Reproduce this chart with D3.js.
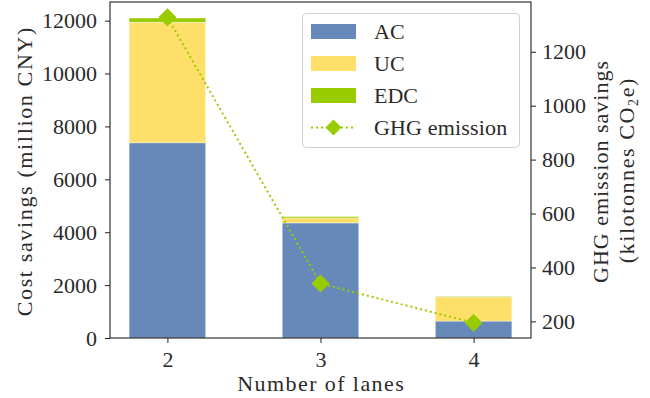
<!DOCTYPE html>
<html><head><meta charset="utf-8">
<script src="https://cdn.jsdelivr.net/npm/d3@7"></script>
<style>body{margin:0;background:#fff}svg{display:block}</style>
</head><body>
<script>
const lanes = [2, 3, 4];
const acValues = [7380, 4350, 640];
const ucValues = [4560, 190, 910];
const edcValues = [160, 50, 25];
const ghgValues = [1328, 340, 195];
const leftTicks = [0, 2000, 4000, 6000, 8000, 10000, 12000];
const rightTicks = [200, 400, 600, 800, 1000, 1200];
const seriesNames = ["AC", "UC", "EDC"];
const colors = {AC: "#6689ba", UC: "#fddf69", EDC: "#99cc00", GHG: "#99cc00"};

const W = 650, H = 398;
const L = 110, R = 531, T = 2, B = 338;
const FONT = "'Liberation Serif', 'DejaVu Serif', serif";
const FS = 22, CW = 11.1, TXT = "#2a2a2a";

const svg = d3.select("body").append("svg").attr("width", W).attr("height", H)
  .style("font-family", FONT);

const x = d3.scaleLinear().domain([1.625, 4.375]).range([L, R]);
const yL = d3.scaleLinear().domain([0, 12705]).range([B, T]);
const yR = d3.scaleLinear().domain([138.3, 1384.6]).range([B, T]);
const barW = x(2.25) - x(1.75);

// spread text to a monospace-like cell width (as the reference font), never squeeze
function fit(sel) {
  sel.each(function() {
    const s = this.textContent;
    const target = s.length * CW;
    if (this.getComputedTextLength() < target) {
      d3.select(this).attr("textLength", target).attr("lengthAdjust", "spacing");
    }
  });
}

// stacked bars
const rows = lanes.map((l, i) => ({lane: l, AC: acValues[i], UC: ucValues[i], EDC: edcValues[i]}));
const stack = d3.stack().keys(seriesNames)(rows);
svg.append("g").selectAll("g").data(stack).join("g")
  .attr("fill", d => colors[d.key])
  .selectAll("rect").data(d => d).join("rect")
  .attr("x", d => x(d.data.lane) - barW / 2)
  .attr("width", barW)
  .attr("y", d => yL(d[1]))
  .attr("height", d => yL(d[0]) - yL(d[1]))
  .attr("stroke", "#ffffff").attr("stroke-width", 0.6).attr("stroke-opacity", 0.6);

// GHG line
const line = d3.line().x((d, i) => x(lanes[i])).y(d => yR(d));
svg.append("path").datum(ghgValues).attr("d", line)
  .attr("fill", "none").attr("stroke", colors.GHG).attr("stroke-width", 2)
  .attr("stroke-dasharray", "2,3");
const dm = 9;
svg.append("g").selectAll("path").data(ghgValues).join("path")
  .attr("transform", (d, i) => `translate(${x(lanes[i])},${yR(d)})`)
  .attr("d", `M0,${-dm}L${dm},0L0,${dm}L${-dm},0Z`)
  .attr("fill", colors.GHG);

// frame
svg.append("rect").attr("x", L).attr("y", T).attr("width", R - L).attr("height", B - T)
  .attr("fill", "none").attr("stroke", "#222").attr("stroke-width", 1.1);

// left axis
const gL = svg.append("g").attr("transform", `translate(${L},0)`)
  .call(d3.axisLeft(yL).tickValues(leftTicks).tickSize(5).tickPadding(8).tickFormat(d3.format("d")));
gL.select(".domain").remove();
gL.selectAll("line").attr("stroke", "#222");
gL.selectAll("text").attr("font-size", FS).attr("fill", TXT).attr("font-family", FONT);

// right axis
const gR = svg.append("g").attr("transform", `translate(${R},0)`)
  .call(d3.axisRight(yR).tickValues(rightTicks).tickSize(5).tickPadding(6).tickFormat(d3.format("d")));
gR.select(".domain").remove();
gR.selectAll("line").attr("stroke", "#222");
gR.selectAll("text").attr("font-size", FS).attr("fill", TXT).attr("font-family", FONT);

// bottom axis
const gB = svg.append("g").attr("transform", `translate(0,${B})`)
  .call(d3.axisBottom(x).tickValues(lanes).tickSize(5).tickPadding(8).tickFormat(d3.format("d")));
gB.select(".domain").remove();
gB.selectAll("line").attr("stroke", "#222");
gB.selectAll("text").attr("font-size", FS).attr("fill", TXT).attr("font-family", FONT);

// axis labels
svg.append("text").attr("transform", `translate(${(L + R) / 2},391)`)
  .attr("text-anchor", "middle").attr("font-size", FS).attr("fill", TXT)
  .text("Number of lanes").call(fit);
svg.append("text").attr("transform", `translate(32,${(T + B) / 2 + 2}) rotate(-90)`)
  .attr("text-anchor", "middle").attr("font-size", FS).attr("fill", TXT)
  .text("Cost savings (million CNY)").call(fit);
svg.append("text").attr("transform", `translate(608,${(T + B) / 2 + 2}) rotate(-90)`)
  .attr("text-anchor", "middle").attr("font-size", FS).attr("fill", TXT)
  .text("GHG emission savings").call(fit);
const t2 = svg.append("text").attr("transform", `translate(634,${(T + B) / 2 + 1}) rotate(-90)`)
  .attr("text-anchor", "middle").attr("font-size", FS).attr("fill", TXT)
  .attr("textLength", 17 * CW - 4).attr("lengthAdjust", "spacing");
t2.append("tspan").text("(kilotonnes CO");
t2.append("tspan").attr("font-size", 14).attr("dy", 4).text("2");
t2.append("tspan").attr("dy", -4).text("e)");

// legend
const lg = svg.append("g");
lg.append("rect").attr("x", 302.5).attr("y", 13.5).attr("width", 217).attr("height", 134)
  .attr("rx", 4).attr("fill", "#fff").attr("fill-opacity", 0.85)
  .attr("stroke", "#d0d0d0").attr("stroke-width", 1);
const items = seriesNames.concat(["GHG emission"]);
items.forEach((name, i) => {
  const cy = 31.5 + i * 32;
  if (i < 3) {
    lg.append("rect").attr("x", 311).attr("y", cy - 7.5).attr("width", 45).attr("height", 15)
      .attr("fill", colors[name]);
  } else {
    lg.append("line").attr("x1", 311).attr("x2", 356).attr("y1", cy).attr("y2", cy)
      .attr("stroke", colors.GHG).attr("stroke-width", 2).attr("stroke-dasharray", "2,3");
    lg.append("path").attr("transform", `translate(333.5,${cy})`)
      .attr("d", `M0,-8L8,0L0,8L-8,0Z`).attr("fill", colors.GHG);
  }
  lg.append("text").attr("x", 374).attr("y", cy).attr("dy", "0.34em")
    .attr("font-size", FS).attr("fill", TXT).text(name).call(fit);
});
</script>
</body></html>
